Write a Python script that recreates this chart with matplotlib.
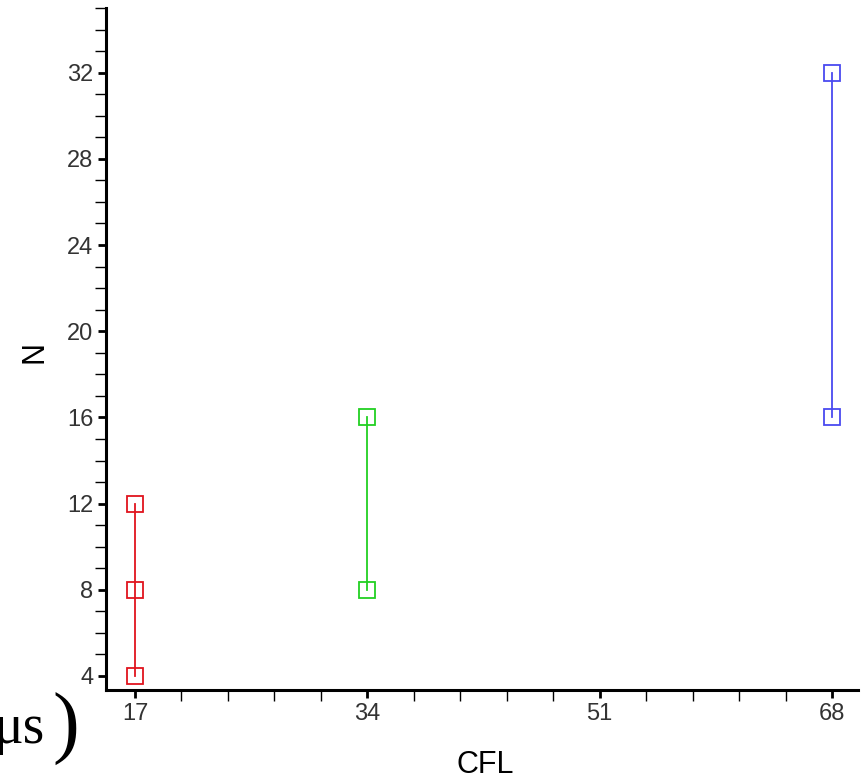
import matplotlib
matplotlib.use("Agg")
import matplotlib.pyplot as plt
from matplotlib.ticker import MultipleLocator

# data
cfl_values = [17, 34, 68]
n_groups = [[4, 8, 12], [8, 16], [16, 32]]
colors = ['#e0141e', '#22d022', '#4a4af0']

x_ticks = [17, 34, 51, 68]
y_ticks = [4, 8, 12, 16, 20, 24, 28, 32]

plt.rcParams['font.family'] = ['Liberation Sans', 'DejaVu Sans']

fig = plt.figure(figsize=(8.62, 7.81), dpi=100)
ax = fig.add_axes([106 / 862, 1 - 690 / 781, 752 / 862, 682 / 781])

for cfl, ns, c in zip(cfl_values, n_groups, colors):
    ax.plot([cfl] * len(ns), ns, color=c, lw=1.3, marker='s', ms=12,
            mfc='none', mec=c, mew=1.3, clip_on=False)

ax.set_xlim(14.88, 69.9)
ax.set_ylim(3.35, 35.0)
ax.set_xticks(x_ticks)
ax.set_yticks(y_ticks)
ax.xaxis.set_minor_locator(MultipleLocator(3.4))
ax.yaxis.set_minor_locator(MultipleLocator(1))

for s in ['top', 'right']:
    ax.spines[s].set_visible(False)
for s in ['left', 'bottom']:
    ax.spines[s].set_linewidth(2.2)

ax.tick_params(which='major', direction='out', length=6, width=2, labelsize=17,
               labelcolor='#333333', pad=3)
ax.tick_params(which='minor', direction='out', length=8, width=1)

fig.text(485 / 862, 1 - 765 / 781, 'CFL', ha='center', va='center', fontsize=22)
fig.text(35 / 862, 1 - 352 / 781, 'N', ha='center', va='center', fontsize=22,
         rotation=90)

# cropped piece of an equation at lower left (cut off in the reference too)
fig.text(-7 / 862, 1 - 743 / 781, 'μs', fontsize=40, family='Liberation Serif',
         ha='left', va='baseline')
fig.text(52 / 862, 1 - 729 / 781, ')', fontsize=58, family='Liberation Serif',
         ha='left', va='center')

fig.savefig('out.png', dpi=100)
